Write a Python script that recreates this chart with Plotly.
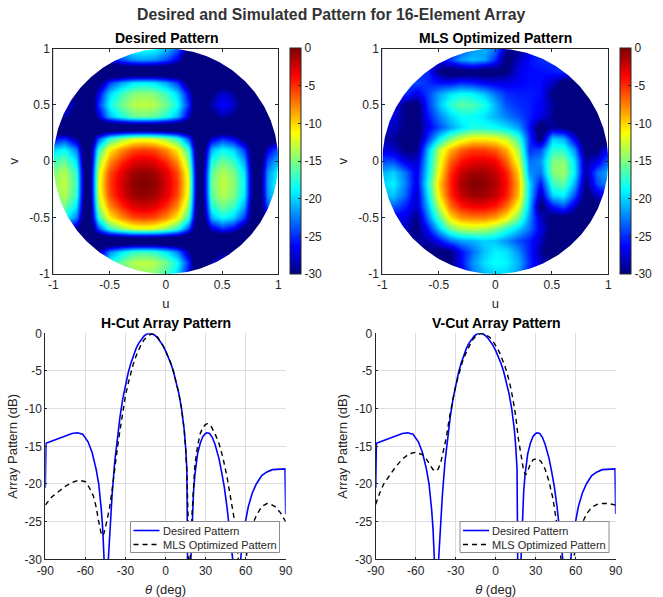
import numpy as np
import plotly.graph_objects as go

W, H = 663, 597

grid_uv = [-1.0,-0.9,-0.8,-0.7,-0.6,-0.5,-0.4,-0.3,-0.2,-0.1,0.0,0.1,0.2,0.3,0.4,0.5,0.6,0.7,0.8,0.9,1.0]

# rows run from v=-1 up to v=+1
desired_rows = [
[-29,-27.5,-31.5,-36,-26.5,-20,-17,-15,-14.5,-15,-17,-20,-26.5,-36,-30,-27.5,-29,-33.5,-36,-36,-32.5],
[-27.5,-26,-30,-36,-25,-18.5,-15.5,-13.5,-13,-13.5,-15.5,-18.5,-25,-36,-28.5,-26,-27.5,-32,-36,-34.5,-31],
[-31.5,-30,-34,-36,-29,-22.5,-19.5,-17.5,-17,-17.5,-19.5,-22.5,-29,-36,-32.5,-30,-31.5,-36,-36,-36,-35],
[-36,-36,-36,-36,-36,-36,-36,-36,-36,-36,-36,-36,-36,-36,-36,-36,-36,-36,-36,-36,-36],
[-26.5,-25,-29,-36,-24,-17.5,-14.5,-12.5,-12,-12.5,-14.5,-17.5,-24,-36,-27.5,-25,-26.5,-31,-36,-33.5,-30],
[-20,-18.5,-22.5,-36,-17.5,-11,-8,-6,-5.5,-6,-8,-11,-17.5,-36,-21,-18.5,-20,-24.5,-36,-27,-23.5],
[-17,-15.5,-19.5,-36,-14.5,-8,-5,-3,-2.5,-3,-5,-8,-14.5,-36,-18,-15.5,-17,-21.5,-36,-24,-20.5],
[-15,-13.5,-17.5,-36,-12.5,-6,-3,-1,-0.5,-1,-3,-6,-12.5,-36,-16,-13.5,-15,-19.5,-36,-22,-18.5],
[-14.5,-13,-17,-36,-12,-5.5,-2.5,-0.5,0,-0.5,-2.5,-5.5,-12,-36,-15.5,-13,-14.5,-19,-36,-21.5,-18],
[-15,-13.5,-17.5,-36,-12.5,-6,-3,-1,-0.5,-1,-3,-6,-12.5,-36,-16,-13.5,-15,-19.5,-36,-22,-18.5],
[-17,-15.5,-19.5,-36,-14.5,-8,-5,-3,-2.5,-3,-5,-8,-14.5,-36,-18,-15.5,-17,-21.5,-36,-24,-20.5],
[-20,-18.5,-22.5,-36,-17.5,-11,-8,-6,-5.5,-6,-8,-11,-17.5,-36,-21,-18.5,-20,-24.5,-36,-27,-23.5],
[-26.5,-25,-29,-36,-24,-17.5,-14.5,-12.5,-12,-12.5,-14.5,-17.5,-24,-36,-27.5,-25,-26.5,-31,-36,-33.5,-30],
[-36,-36,-36,-36,-36,-36,-36,-36,-36,-36,-36,-36,-36,-36,-36,-36,-36,-36,-36,-36,-36],
[-30,-28.5,-32.5,-36,-27.5,-21,-18,-16,-15.5,-16,-18,-21,-27.5,-36,-31,-28.5,-30,-34.5,-36,-36,-33.5],
[-27.5,-26,-30,-36,-25,-18.5,-15.5,-13.5,-13,-13.5,-15.5,-18.5,-25,-36,-28.5,-26,-27.5,-32,-36,-34.5,-31],
[-29,-27.5,-31.5,-36,-26.5,-20,-17,-15,-14.5,-15,-17,-20,-26.5,-36,-30,-27.5,-29,-33.5,-36,-36,-32.5],
[-33.5,-32,-36,-36,-31,-24.5,-21.5,-19.5,-19,-19.5,-21.5,-24.5,-31,-36,-34.5,-32,-33.5,-36,-36,-36,-36],
[-36,-36,-36,-36,-36,-36,-36,-36,-36,-36,-36,-36,-36,-36,-36,-36,-36,-36,-36,-36,-36],
[-36,-34.5,-36,-36,-33.5,-27,-24,-22,-21.5,-22,-24,-27,-33.5,-36,-36,-34.5,-36,-36,-36,-36,-36],
[-32.5,-31,-35,-36,-30,-23.5,-20.5,-18.5,-18,-18.5,-20.5,-23.5,-30,-36,-33.5,-31,-32.5,-36,-36,-36,-36],
]

# rows run from v=+1 down to v=-1
mls_rows = [
[-28,-28,-28,-28,-28,-28,-26,-24,-22,-21,-23,-29,-30,-27,-26,-25,-25,-25,-25,-25,-25],
[-28,-28,-28,-28,-28,-27,-24.5,-21.5,-20.5,-21.5,-25,-31,-28,-26,-25,-25,-25,-25,-25,-25,-25],
[-26,-26,-26,-26,-25,-30,-32,-32,-31,-32,-31,-30,-27,-26,-26,-25.5,-25,-25,-25,-25,-25],
[-24,-24,-24,-24,-25,-26,-26,-25,-25.5,-26.5,-27,-27,-26.5,-26,-26,-28,-31,-32,-32,-32,-32],
[-25,-25,-25,-27,-24.5,-21.5,-19.5,-18.5,-19,-20.5,-23,-25,-25.5,-25.5,-26,-30,-32,-33,-33,-33,-33],
[-27,-27,-30,-31,-25,-20.5,-17.5,-16,-16.5,-18,-21,-24,-25,-25.5,-26.5,-29,-32,-33,-33,-32,-32],
[-27,-27,-30,-31,-26,-22.5,-20,-18.5,-18.5,-19.5,-21,-22.5,-24,-25.5,-27,-29.5,-32,-33,-33,-32,-32],
[-28,-28,-30,-31,-27,-24,-21.5,-19.5,-18,-18,-18.5,-19.5,-21.5,-26,-32,-29,-30,-31,-33,-32,-32],
[-29,-29,-31,-31,-25,-19,-15,-12.5,-11,-11,-11.5,-13,-17,-25,-31,-20,-21,-27,-32,-33,-31],
[-27,-28,-30,-30,-21,-13,-9,-6.5,-5.5,-5.5,-6.5,-9,-14,-25,-24,-17.5,-17.5,-22,-31,-30,-26],
[-24,-24,-27,-28,-20,-12,-6.5,-4,-3,-2.8,-3.5,-6.5,-12,-23,-22,-15,-14.5,-19.5,-29,-27,-23],
[-21,-20,-23,-27,-19.5,-11,-5,-2,-1,-1,-2,-4.5,-10,-22,-23,-15,-14,-19,-29,-23,-21],
[-20,-19,-22.5,-27,-18.5,-9.5,-4.5,-1.2,0,-0.3,-1.5,-4,-9,-20,-26,-17,-16,-21,-30,-24,-22],
[-21,-20.5,-23.5,-28,-19.5,-10.5,-5,-2,-1,-1,-2,-4.5,-9.5,-20,-28.5,-20,-19,-24,-31,-28,-26],
[-24,-23.5,-25.5,-28,-21,-13,-7,-4.5,-3.5,-3.5,-4.5,-7,-12,-21,-31,-26,-24,-28,-32,-31,-30],
[-27,-27,-27,-30,-23,-16,-10.5,-8,-7.5,-7.5,-8.5,-11,-15.5,-22,-28,-31,-31,-31,-32,-32,-32],
[-28,-28,-28,-30.5,-26,-20,-15.5,-13.5,-13,-13.5,-15,-17.5,-20,-23,-27,-31,-33,-33,-33,-33,-33],
[-29,-29,-29,-29,-29,-26,-23,-21.5,-21,-20,-20.5,-22,-24,-25.5,-28,-32,-33,-33,-33,-33,-33],
[-30,-30,-30,-30,-30,-31,-30,-26,-23,-20.5,-19,-19.5,-22,-25.5,-29,-32,-32,-32,-32,-32,-32],
[-30,-30,-30,-30,-30,-30,-30,-26,-22,-19.5,-18.5,-19,-21,-25,-28,-30,-30,-30,-30,-30,-30],
[-30,-30,-30,-30,-30,-30,-30,-27,-23,-21,-20,-20,-22,-26,-28,-30,-30,-30,-30,-30,-30],
]

theta_desired = [-90,-89.5,-85,-80,-75,-70,-66,-62,-58,-55,-52,-50,-48,-47,-46,-44.5,-42.8,-42,-40,-38,-36,-34,-32,-30,-28,-26,-24,-22,-20,-18,-16,-14,-12,-10,-8,-6,-4,-2,0,2,4,6,8,10,12,14,15,16,16.5,17.8,19,20,21,22,24,26,28,30,31,33,35,37,40,42,44,46,48,50.3,53.3,56.3,58,60,62,65,68,72,76,80,85,89.5,90]
desired_db = [-20.5,-14.6,-14.3,-14,-13.6,-13.3,-13.2,-13.4,-14.4,-15.8,-18,-20,-23.5,-26,-30,-50,-30,-27,-21.5,-17,-13.7,-11,-8.7,-6.8,-5.3,-4,-2.9,-2,-1.3,-0.75,-0.35,-0.1,0,-0.05,-0.25,-0.6,-1.05,-1.6,-2.3,-3.05,-4,-5.1,-6.4,-8,-10,-12.8,-15,-18,-30,-50,-30,-24,-21,-18.8,-16,-14.6,-13.7,-13.3,-13.2,-13.3,-13.8,-14.7,-16.6,-18.4,-20.4,-23,-26,-30,-50,-30,-26.8,-24.6,-23,-21.2,-20,-18.9,-18.4,-18.1,-18,-18,-24]

theta_h_mls = [-90,-85,-80,-75,-70,-65,-60,-57,-54,-52,-50,-48,-47,-46,-44,-42,-40,-38,-36,-34,-32,-30,-28,-26,-24,-22,-20,-18,-16,-14,-12,-10,-8,-6,-4,-2,0,2,4,6,8,10,12,14,15,16,17,17.7,18.5,20,22,24,26,28,30,31.5,34,37,40,43,46,49,52,54.5,57,60.3,62,65,68,72,76,78,82,86,90]
h_mls_db = [-22.8,-21.7,-21,-20.3,-19.8,-19.5,-19.7,-20.5,-21.6,-23,-25,-26.7,-26.9,-26.5,-25,-23.3,-20.8,-17.8,-15.2,-12.8,-10.5,-8.3,-6.7,-5.3,-4,-3,-2.1,-1.4,-0.85,-0.45,-0.2,-0.1,-0.2,-0.5,-1,-1.6,-2.3,-3.05,-4,-5.1,-6.4,-8,-10,-12.8,-15,-18.5,-25,-40,-30,-23.5,-17.5,-15,-13.3,-12.5,-12.1,-12,-12.3,-13.3,-14.6,-16.5,-19,-22,-25.2,-30,-38,-30,-27.5,-25.5,-24.2,-23,-22.6,-22.6,-23,-23.8,-25]

theta_v_mls = [-90,-87,-84,-80,-75,-70,-65,-60,-55,-52,-50,-47,-45,-43,-41,-39,-37,-35,-33,-31,-29,-27,-25,-23,-21,-19,-17,-15,-13,-11,-9,-7,-5,-3,-1,1,3,5,7,9,11,13,15,17,19,21,22.5,24,26,28,31,34,37,40,43,46,49,53,58.5,60,62,65,68,72,76,80,85,90]
v_mls_db = [-22.7,-21.2,-20,-19,-17.7,-16.7,-16,-15.8,-16.1,-16.7,-17.3,-18.1,-18.3,-18,-17,-15.6,-13.8,-11.5,-9.5,-7.8,-6.3,-5,-3.8,-2.9,-2.1,-1.4,-0.8,-0.4,-0.15,0,-0.05,-0.2,-0.45,-0.8,-1.3,-1.9,-2.6,-3.4,-4.4,-5.6,-7,-8.8,-11,-14,-16.5,-18.3,-18.8,-18.3,-17.3,-16.8,-16.6,-17,-18,-19.7,-22,-25.5,-30,-45,-30,-28,-26.8,-25.2,-24,-23.1,-22.7,-22.6,-22.6,-22.8]

uv_ticks = [-1,-0.5,0,0.5,1]
uv_labels = ["-1","-0.5","0","0.5","1"]
cb_ticks = [0,-5,-10,-15,-20,-25,-30]
cb_labels = ["0","-5","-10","-15","-20","-25","-30"]
theta_ticks = [-90,-60,-30,0,30,60,90]
theta_labels = ["-90","-60","-30","0","30","60","90"]
db_ticks = [0,-5,-10,-15,-20,-25,-30]
db_labels = ["0","-5","-10","-15","-20","-25","-30"]
legend_names = ["Desired Pattern", "MLS Optimized Pattern"]

FONT = "Liberation Sans"
INK = "#262626"
jet = [[0,"rgb(0,0,128)"],[0.125,"rgb(0,0,255)"],[0.375,"rgb(0,255,255)"],
       [0.625,"rgb(255,255,0)"],[0.875,"rgb(255,0,0)"],[1,"rgb(128,0,0)"]]

def px_x(a, b): return [a/W, b/W]
def px_y(top, bot): return [1-bot/H, 1-top/H]

fig = go.Figure()
t = np.linspace(0, 2*np.pi, 361)[::-1]
mask_x = np.r_[[-1.2,1.2,1.2,-1.2,-1.2], np.cos(t), -1.2]
mask_y = np.r_[[-1.2,-1.2,1.2,1.2,-1.2], np.sin(t), -1.2]

def heat(z, xa, ya, cbx, cby_top, cby_bot):
    fig.add_trace(go.Heatmap(x=grid_uv, y=grid_uv, z=z, xaxis=xa, yaxis=ya, zsmooth="best",
        zmin=-30, zmax=0, colorscale=jet, hoverinfo="skip",
        colorbar=dict(x=cbx/W, xanchor="left", xpad=0, ypad=0, thicknessmode="pixels", thickness=11,
            lenmode="fraction", len=(cby_bot-cby_top)/H, y=1-cby_bot/H, yanchor="bottom",
            tickmode="array", tickvals=cb_ticks, ticktext=cb_labels, ticks="inside", ticklen=3, tickcolor=INK,
            tickfont=dict(family=FONT, size=12, color=INK), outlinecolor=INK, outlinewidth=1, borderwidth=0)))
    fig.add_trace(go.Scatter(x=mask_x, y=mask_y, xaxis=xa, yaxis=ya, mode="lines", fill="toself",
        fillcolor="white", line=dict(width=0, color="white"), hoverinfo="skip", showlegend=False))

heat(desired_rows, "x", "y", 289.5, 48.5, 274)
heat(np.array(mls_rows)[::-1].tolist(), "x2", "y2", 619.5, 48.5, 274)

def lines(xa, ya, th_d, d, th_m, m):
    fig.add_trace(go.Scatter(x=th_d, y=d, xaxis=xa, yaxis=ya, mode="lines", name=legend_names[0],
        line=dict(color="#0000ff", width=1.6), showlegend=False, hoverinfo="skip"))
    fig.add_trace(go.Scatter(x=th_m, y=m, xaxis=xa, yaxis=ya, mode="lines", name=legend_names[1],
        line=dict(color="black", width=1.4, dash="5px,4px"), showlegend=False, hoverinfo="skip"))

lines("x3", "y3", theta_desired, desired_db, theta_h_mls, h_mls_db)
lines("x4", "y4", theta_desired, desired_db, theta_v_mls, v_mls_db)

tf = dict(family=FONT, size=12, color=INK)
lf = dict(family=FONT, size=13, color=INK)

def uv_axis(domain, title, anchor):
    return dict(domain=domain, range=[-1,1], tickmode="array", tickvals=uv_ticks, ticktext=uv_labels,
        ticks="inside", ticklen=3, tickcolor=INK, tickfont=tf, showline=True, linecolor=INK, linewidth=1,
        mirror="ticks", showgrid=False, zeroline=False, anchor=anchor,
        title=dict(text=title, font=lf, standoff=7))

def th_axis(domain, anchor):
    return dict(domain=domain, range=[-90,90], tickmode="array", tickvals=theta_ticks, ticktext=theta_labels,
        ticks="inside", ticklen=2, tickcolor=INK, tickfont=tf, showline=True, linecolor=INK, linewidth=1,
        showgrid=True, gridcolor="#dedede", gridwidth=1, zeroline=False, anchor=anchor,
        title=dict(text="<i>θ</i> (deg)", font=lf, standoff=8))

def db_axis(domain, anchor):
    return dict(domain=domain, range=[-30,0], tickmode="array", tickvals=db_ticks, ticktext=db_labels,
        ticks="inside", ticklen=2, tickcolor=INK, tickfont=tf, showline=True, linecolor=INK, linewidth=1,
        showgrid=True, gridcolor="#dedede", gridwidth=1, zeroline=False, anchor=anchor,
        title=dict(text="Array Pattern (dB)", font=lf, standoff=4))

def title(text, x, y, size, color="black"):
    return dict(text=f"<b>{text}</b>", x=x/W, y=1-y/H, xref="paper", yref="paper", showarrow=False,
                xanchor="center", yanchor="middle", font=dict(family=FONT, size=size, color=color))

shapes = []
notes = [
    title("Desired and Simulated Pattern for 16-Element Array", 331, 15, 15.8, "#333333"),
    title("Desired Pattern", 166, 38, 14),
    title("MLS Optimized Pattern", 495, 38, 14),
    title("H-Cut Array Pattern", 166, 323, 14),
    title("V-Cut Array Pattern", 496, 323, 14),
]

def legend_box(x0):
    y0, y1 = 521.5, 552.5
    x1 = x0 + 149
    shapes.append(dict(type="rect", xref="paper", yref="paper", x0=x0/W, x1=x1/W, y0=1-y0/H, y1=1-y1/H,
                       fillcolor="white", line=dict(color="#8c8c8c", width=1), layer="above"))
    shapes.append(dict(type="line", xref="paper", yref="paper", x0=(x0+3)/W, x1=(x0+29)/W, y0=1-530.5/H, y1=1-530.5/H,
                       line=dict(color="#0000ff", width=1.6), layer="above"))
    shapes.append(dict(type="line", xref="paper", yref="paper", x0=(x0+3)/W, x1=(x0+29)/W, y0=1-544.5/H, y1=1-544.5/H,
                       line=dict(color="black", width=1.4, dash="5px,4px"), layer="above"))
    for nm, yy in zip(legend_names, (530.5, 544.5)):
        notes.append(dict(text=nm, x=(x0+30)/W, y=1-yy/H, xref="paper", yref="paper", showarrow=False,
                          xanchor="left", yanchor="middle", font=dict(family=FONT, size=11, color=INK)))

legend_box(130.5)
legend_box(460)

fig.update_layout(
    width=W, height=H, autosize=False, paper_bgcolor="white", plot_bgcolor="white", showlegend=False,
    margin=dict(l=0, r=0, t=0, b=0, pad=0, autoexpand=False),
    xaxis=uv_axis(px_x(53.3,278.3), "u", "y"),
    yaxis=uv_axis(px_y(48.5,274), "v", "x"),
    xaxis2=uv_axis(px_x(382.3,608.3), "u", "y2"),
    yaxis2=uv_axis(px_y(48.5,274), "v", "x2"),
    xaxis3=th_axis(px_x(45.3,285.7), "y3"),
    yaxis3=db_axis(px_y(333.3,559.3), "x3"),
    xaxis4=th_axis(px_x(375.7,615.7), "y4"),
    yaxis4=db_axis(px_y(333.3,559.3), "x4"),
    annotations=notes,
    shapes=shapes,
)
fig.write_html("out.html", config={"displayModeBar": False},
               post_script="document.body.style.margin='0';document.documentElement.style.overflow='hidden';")
